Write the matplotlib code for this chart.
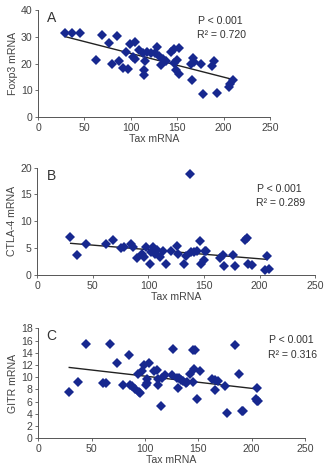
import matplotlib
matplotlib.use("Agg")
import matplotlib.pyplot as plt

plt.rcParams['font.family'] = ['Liberation Sans', 'DejaVu Sans']

# Panel A: Foxp3 vs Tax
taxA = [29, 37, 45, 63, 69, 77, 80, 85, 87, 92, 95, 97, 99, 102, 104, 105, 109, 113,
        114, 114, 115, 117, 122, 126, 128, 130, 133, 135, 138, 143, 146, 147, 149, 152,
        152, 150, 165, 167, 166, 168, 176, 178, 188, 190, 193, 206, 207, 210]
foxp3 = [31.5, 31.5, 31.6, 21.3, 30.5, 27.5, 20, 30.4, 21, 18.4, 24.4, 17.8, 27.2, 22.5,
         21.6, 28, 25, 23.8, 17.6, 15.7, 21, 24.2, 23.8, 24, 26.3, 22.8, 19.4, 21.6, 21,
         24.5, 25.3, 20.3, 17.6, 16, 25.7, 21.5, 20, 22, 13.8, 20.7, 19.8, 8.5, 19.2, 21,
         9, 11.3, 12.3, 13.8]
fitA_x = [30, 207]
fitA_y = [30.0, 14.3]

# Panel B: CTLA-4 vs Tax
taxB = [29, 36, 44, 62, 68, 75, 78, 84, 86.5, 90, 94, 96, 98, 101, 102, 104.5, 106, 108,
        110, 113, 116, 120, 126, 127, 132, 134, 137, 138, 141, 144, 146, 147, 150, 151,
        152, 164, 167, 168, 176, 178, 187, 189, 190, 193, 205, 207, 208.5]
ctla4 = [7, 3.8, 5.7, 5.7, 6.6, 5.1, 5.3, 5.7, 5.2, 3.2, 4, 3.3, 5.2, 2, 4.3, 5.2, 4, 4.7,
         3.4, 4.5, 2, 4.5, 5.4, 4, 2, 3.5, 18.8, 4.3, 4.2, 4.5, 6.4, 2, 2.8, 4.5, 4.5, 3.1,
         3.7, 1.7, 3.7, 1.7, 6.6, 6.9, 2, 1.9, 1, 3.5, 1.2]
fitB_x = [30, 207]
fitB_y = [5.9, 2.9]

# Panel C: GITR vs Tax
taxC = [29, 37, 45, 61, 63, 67, 74, 79, 85, 86, 88, 91, 93, 94, 95, 97, 99, 100.5, 101.5,
        102, 104, 108, 111.5, 112, 112.5, 115, 115.6, 119, 125, 126.5, 130, 131, 132, 134,
        136, 138, 139.7, 142, 145, 145, 146.5, 146, 149, 152, 163, 165.5, 165.5, 168, 175,
        176.6, 184, 188, 190.6, 192, 204, 204.7, 205.3, 206]
gitr = [7.6, 9.2, 15.5, 9, 9, 15.5, 12.4, 8.7, 13.7, 8.7, 8.5, 8, 10.5, 7.6, 7.4, 11, 12,
        8.7, 9.1, 9.7, 12.4, 11, 11.2, 9.7, 8.8, 5.3, 9.8, 10.3, 10.3, 14.7, 9.8, 8.2, 9.8,
        9.5, 9.4, 9, 9.2, 10.6, 9.3, 14.5, 14.5, 11.3, 6.4, 11.1, 9.7, 9.5, 7.9, 9.4, 8.6,
        4.2, 15.2, 10.5, 4.5, 4.5, 6.4, 6.1, 8.2, 6.1]
fitC_x = [29, 204]
fitC_y = [11.6, 8.1]

r2_labels = ['0.720', '0.289', '0.316']

color = '#17288f'
fs = 7.6

fig = plt.figure(figsize=(3.26, 4.69), dpi=100)

panels = [
    dict(rect=[0.1166, 0.7505, 0.7117, 0.228], x=taxA, y=foxp3, fx=fitA_x, fy=fitA_y,
         ylim=40, yticks=range(0, 41, 10), ylabel='Foxp3 mRNA', letter='A',
         letter_xy=(10, 39.5), txt_xy=(172, 36), txt_dy=5.4),
    dict(rect=[0.1145, 0.4137, 0.852, 0.2288], x=taxB, y=ctla4, fx=fitB_x, fy=fitB_y,
         ylim=20, yticks=range(0, 21, 5), ylabel='CTLA-4 mRNA', letter='B',
         letter_xy=(9, 19.8), txt_xy=(198, 16), txt_dy=2.6),
    dict(rect=[0.1175, 0.0654, 0.818, 0.2345], x=taxC, y=gitr, fx=fitC_x, fy=fitC_y,
         ylim=18, yticks=range(0, 19, 2), ylabel='GITR mRNA', letter='C',
         letter_xy=(7, 17.9), txt_xy=(216, 16.1), txt_dy=2.5),
]

for i, p in enumerate(panels):
    ax = fig.add_axes(p['rect'])
    ax.plot(p['x'], p['y'], linestyle='none', marker='D', markersize=5.6,
            color=color, markeredgewidth=0, zorder=3)
    ax.plot(p['fx'], p['fy'], color='#222222', linewidth=1, zorder=2)
    ax.set_xlim(0, 250)
    ax.set_ylim(0, p['ylim'])
    ax.set_xticks(range(0, 251, 50))
    ax.set_yticks(list(p['yticks']))
    for s in ['top', 'right']:
        ax.spines[s].set_visible(False)
    for s in ['left', 'bottom']:
        ax.spines[s].set_color('#555555')
        ax.spines[s].set_linewidth(0.7)
    ax.tick_params(labelsize=fs, length=2.5, width=0.6, color='#555555',
                   labelcolor='#444444', pad=1.5)
    ax.set_xlabel('Tax mRNA', fontsize=fs, color='#444444', labelpad=1)
    ax.set_ylabel(p['ylabel'], fontsize=fs, color='#444444', labelpad=2)
    ax.text(p['letter_xy'][0], p['letter_xy'][1], p['letter'], fontsize=10,
            color='#333333', va='top', ha='left')
    tx, ty = p['txt_xy']
    ax.text(tx, ty, 'P < 0.001', fontsize=fs, color='#333333', va='center', ha='left')
    ax.text(tx - 1, ty - p['txt_dy'], 'R² = ' + r2_labels[i],
            fontsize=fs, color='#333333', va='center', ha='left')

fig.savefig('out.png', dpi=100)
